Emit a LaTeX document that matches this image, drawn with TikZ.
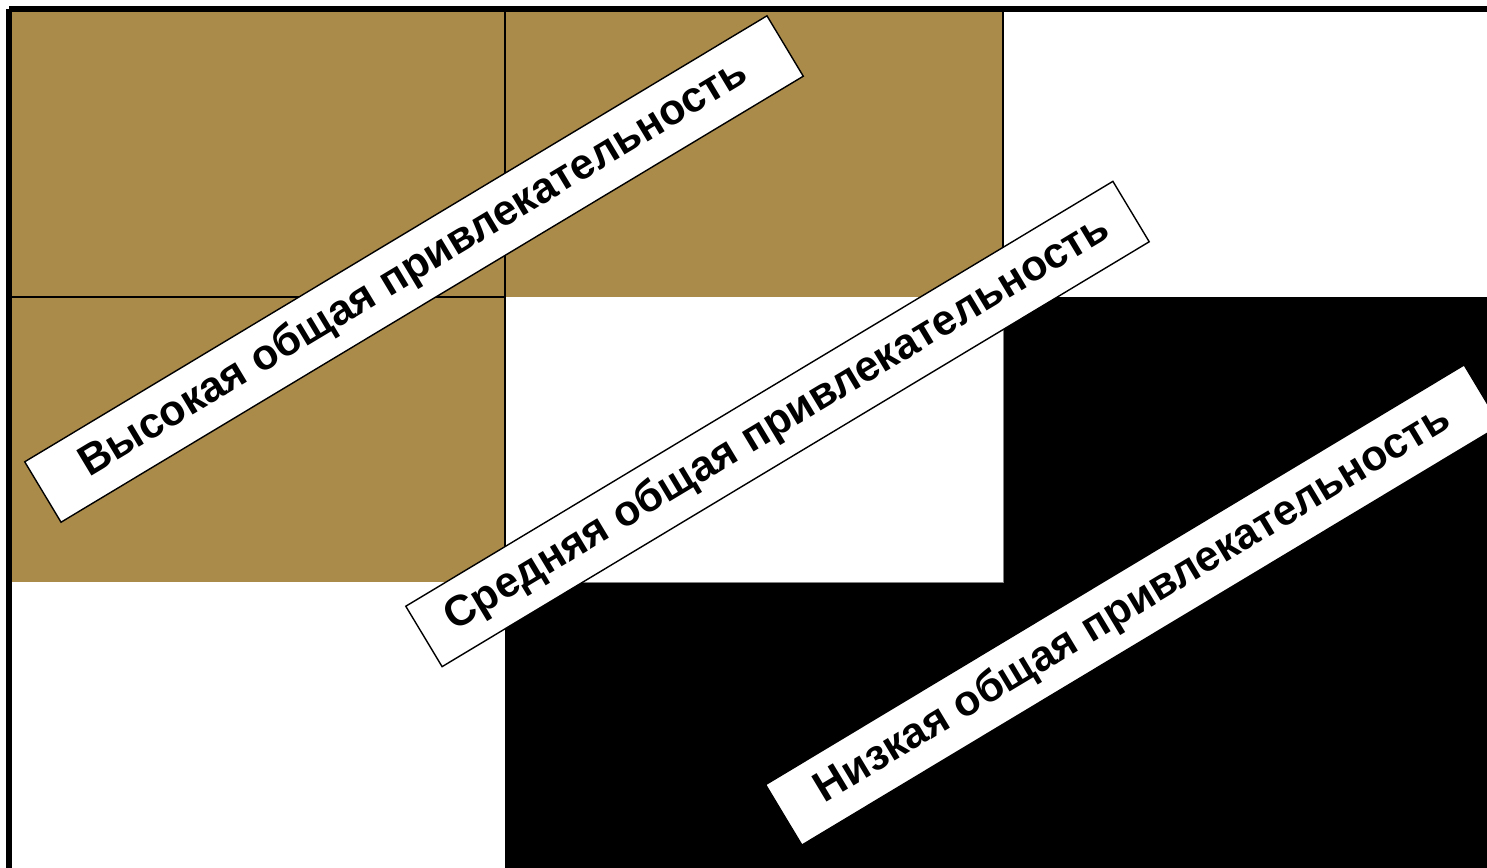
\documentclass[tikz,border=0pt]{standalone}
\usepackage{fontspec}
\setmainfont{Liberation Sans}
\definecolor{tan}{RGB}{171,139,74}
\begin{document}
\begin{tikzpicture}[x=0.05cm,y=-0.05cm,
  label box/.style={draw=black,line width=2pt,fill=white,rotate=31,
    minimum height=70.5*1.4226pt,inner sep=0pt,
    font=\fontsize{61}{70}\selectfont\bfseries},
  grid line/.style={draw=black,line width=2.8pt},
  border/.style={draw=black,line width=8.5pt}]
\useasboundingbox (0,0) rectangle (1487,868);
\clip (0,0) rectangle (1487,868);
\fill[white] (0,0) rectangle (1487,868);
% brown cells
\fill[tan] (12,12) rectangle (1003,297);
\fill[tan] (12,297) rectangle (505,582);
% black region
\fill[black] (1003,297) rectangle (1487,868);
\fill[black] (505,582) rectangle (1487,868);
% grid lines
\draw[grid line] (505,12) -- (505,582);
\draw[grid line] (12,297) -- (505,297);
\draw[black,line width=1.5pt] (1003,12) -- (1003,297);
\draw[gray,line width=1pt] (505,582) -- (1003,582) -- (1003,297);
% borders
\draw[border] (9,9) -- (1487,9);
\draw[border] (9,9) -- (9,868);
% labels
\node[label box,minimum width=866*1.4226pt] (hi) at (414,269) {Высокая общая привлекательность};
\node[label box,minimum width=825*1.4226pt] (mid) at (777.5,424) {Средняя общая привлекательность};
\node[label box,minimum width=815*1.4226pt] (low) at (1133,605) {Низкая общая привлекательность};
\end{tikzpicture}
\end{document}
